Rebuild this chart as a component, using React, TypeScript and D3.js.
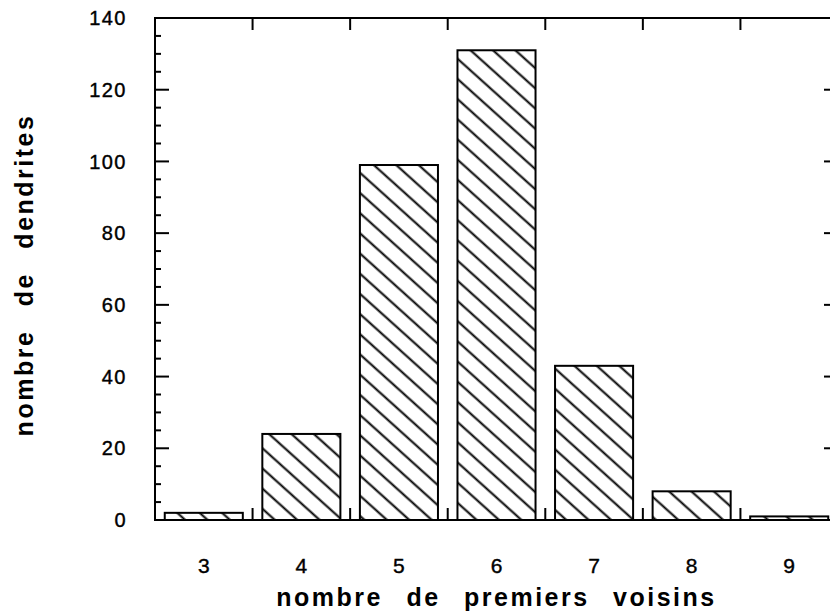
import * as d3 from "d3"

// nombre de premiers voisins -> nombre de dendrites
const categories = ["3", "4", "5", "6", "7", "8", "9"]
const counts = [2, 24, 99, 131, 43, 8, 1]
const yMajorTicks = [0, 20, 40, 60, 80, 100, 120, 140]

const W = 830
const H = 613
const margin = { left: 155, top: 18, right: -8, bottom: 93 }

export default function App() {
  const x0 = margin.left
  const x1 = W - margin.right
  const y0 = H - margin.bottom
  const y1 = margin.top

  const x = d3.scaleBand<string>().domain(categories).range([x0, x1]).paddingInner(0.2).paddingOuter(0.1)
  const y = d3.scaleLinear().domain([0, 140]).range([y0, y1])
  const step = x.step()
  const minorTicks = d3.range(0, 141, 5).filter(v => v % 20 !== 0)
  // bin boundaries between categories
  const bounds = categories.slice(1).map(c => (x(c) as number) - step * 0.1)

  const font = "'Liberation Sans', Arial, Helvetica, sans-serif"

  return (
    <svg width={W} height={H} style={{ position: "absolute", left: 0, top: 0, background: "#fff" }}>
      <defs>
        <pattern id="hatch" width={15} height={15} patternUnits="userSpaceOnUse" patternTransform="rotate(42)">
          <line x1={-2} y1={7.5} x2={17} y2={7.5} stroke="#000" strokeWidth={2} />
        </pattern>
      </defs>

      {/* bars */}
      {categories.map((c, i) => (
        <rect
          key={c}
          x={x(c)}
          y={y(counts[i])}
          width={x.bandwidth()}
          height={y0 - y(counts[i])}
          fill="url(#hatch)"
          stroke="#000"
          strokeWidth={2}
        />
      ))}

      {/* frame */}
      <rect x={x0} y={y1} width={x1 - x0} height={y0 - y1} fill="none" stroke="#000" strokeWidth={2} />

      {/* left / right ticks */}
      {yMajorTicks.map(v => (
        <g key={"M" + v}>
          <line x1={x0} x2={x0 + 14} y1={y(v)} y2={y(v)} stroke="#000" strokeWidth={2} />
          <line x1={x1} x2={x1 - 14} y1={y(v)} y2={y(v)} stroke="#000" strokeWidth={2} />
          <text
            x={127}
            y={y(v)}
            dy="0.36em"
            textAnchor="end"
            fontFamily={font}
            fontSize={20}
            letterSpacing={1.5}
            stroke="#000"
            strokeWidth={0.4}
          >
            {v}
          </text>
        </g>
      ))}
      {minorTicks.map(v => (
        <g key={"m" + v}>
          <line x1={x0} x2={x0 + 6} y1={y(v)} y2={y(v)} stroke="#000" strokeWidth={2} />
          <line x1={x1} x2={x1 - 6} y1={y(v)} y2={y(v)} stroke="#000" strokeWidth={2} />
        </g>
      ))}

      {/* top / bottom ticks at bin boundaries */}
      {bounds.map((b, i) => (
        <g key={"b" + i}>
          <line x1={b} x2={b} y1={y0} y2={y0 - 12} stroke="#000" strokeWidth={2} />
          <line x1={b} x2={b} y1={y1} y2={y1 + 12} stroke="#000" strokeWidth={2} />
        </g>
      ))}

      {/* x tick labels */}
      {categories.map(c => (
        <text
          key={"l" + c}
          x={(x(c) as number) + x.bandwidth() / 2}
          y={573}
          textAnchor="middle"
          fontFamily={font}
          fontSize={21}
          stroke="#000"
          strokeWidth={0.4}
        >
          {c}
        </text>
      ))}

      {/* axis titles */}
      <text
        x={(x0 + x1) / 2}
        y={606}
        textAnchor="middle"
        fontFamily={font}
        fontWeight="bold"
        fontSize={25}
        letterSpacing={2.5}
        wordSpacing={14}
      >
        nombre de premiers voisins
      </text>
      <text
        transform={`translate(33, ${(y0 + y1) / 2 + 6}) rotate(-90)`}
        textAnchor="middle"
        fontFamily={font}
        fontWeight="bold"
        fontSize={25}
        letterSpacing={2.5}
        wordSpacing={14}
      >
        nombre de dendrites
      </text>
    </svg>
  )
}
